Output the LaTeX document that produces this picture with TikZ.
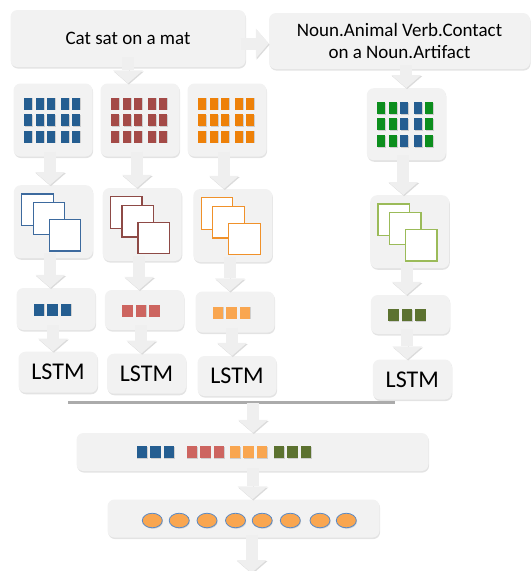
\documentclass[tikz,border=0pt]{standalone}
\usepackage{fontspec}
\setmainfont{Carlito}
\usetikzlibrary{arrows.meta,shapes.geometric,shadows,positioning,calc}
\definecolor{boxgray}{HTML}{F2F2F2}
\definecolor{arrowgray}{HTML}{EFEFEF}
\definecolor{cblue}{HTML}{255E91}
\definecolor{cred}{HTML}{A44A47}
\definecolor{corange}{HTML}{EE8109}
\definecolor{cgreen}{HTML}{0C8E1D}
\definecolor{fblue}{HTML}{3D6A9E}
\definecolor{fred}{HTML}{8E4A46}
\definecolor{forange}{HTML}{F0912A}
\definecolor{fgreen}{HTML}{9BBB59}
\definecolor{vblue}{HTML}{255E91}
\definecolor{vred}{HTML}{CD6560}
\definecolor{vorange}{HTML}{F9A650}
\definecolor{vgreen}{HTML}{5C7230}
\definecolor{ublue}{HTML}{5A8AC6}
\tikzset{
block/.style    = {fill=boxgray, rounded corners=7pt, inner sep=0pt, drop shadow={shadow xshift=0.6pt, shadow yshift=-1.6pt, opacity=0.22}},
colbox/.style   = {block, minimum width=79pt, minimum height=73pt},
rowbox/.style   = {block, minimum width=79pt, minimum height=40pt},
cell/.style     = {rectangle, inner sep=0pt, minimum width=8pt, minimum height=12pt, drop shadow={shadow xshift=0.7pt, shadow yshift=-0.9pt, opacity=0.3}},
chip/.style     = {cell, minimum width=10.5pt},
sheet/.style    = {rectangle, fill=white, line width=1.1pt, inner sep=0pt, minimum size=31.5pt},
unit/.style     = {ellipse, draw=ublue, fill=vorange, line width=0.8pt, inner sep=0pt, minimum width=20pt, minimum height=14.5pt, drop shadow={shadow xshift=0.7pt, shadow yshift=-1pt, opacity=0.3}},
flow/.style     = {draw=arrowgray, line width=12pt, -{Triangle[width=30pt,length=13pt,line width=0pt]}, preaction={draw=black!14, transform canvas={shift={(0.8pt,-1.2pt)}}}},
rule/.style     = {draw=black!33, line width=3pt},
sentfont/.style = {font=\fontsize{19}{22}\selectfont},
lstmfont/.style = {font=\fontsize{24}{26}\selectfont}
}
\begin{document}
\begin{tikzpicture}[x=1pt, y=-1pt]
  \useasboundingbox (0,0) rectangle (531,571);

  \node [block, sentfont, minimum width=235pt, minimum height=57pt]               (sent)    at (128,38.5)    {Cat sat on a mat};
  \node [block, sentfont, minimum width=261pt, minimum height=56pt, align=center] (tags)    at (399.5,41)    {Noun.Animal Verb.Contact\\on a Noun.Artifact};

  \node [colbox]                                                                  (grida)   at (53,120)      {};
  \node [colbox]                                                                  (gridb)   at (140,120)     {};
  \node [colbox]                                                                  (gridc)   at (227,120)     {};
  \node [colbox, minimum height=72pt]                                             (gridd)   at (406.3,124.2) {};

  \node [colbox]                                                                  (convola) at (53.3,221.7)  {};
  \node [colbox]                                                                  (convolb) at (142.2,224.5) {};
  \node [colbox]                                                                  (convolc) at (232.8,225.5) {};
  \node [colbox]                                                                  (convold) at (409.7,231.7) {};

  \node [rowbox, minimum height=42pt]                                             (vecta)   at (56,309)      {};
  \node [rowbox]                                                                  (vectb)   at (144.4,310)   {};
  \node [rowbox, minimum height=41pt]                                             (vectc)   at (235,312)     {};
  \node [rowbox, minimum height=39pt]                                             (vectd)   at (410.3,314.5) {};

  \node [rowbox, lstmfont, minimum height=41pt]                                   (lstma)   at (58,372.2)    {LSTM};
  \node [rowbox, lstmfont]                                                        (lstmb)   at (146.5,373.7) {LSTM};
  \node [rowbox, lstmfont]                                                        (lstmc)   at (237,376)     {LSTM};
  \node [rowbox, lstmfont]                                                        (lstmd)   at (412.3,379.5) {LSTM};

  \node [block, minimum width=352pt, minimum height=38pt]                         (concat)  at (252.5,452)   {};
  \node [block, minimum width=272pt, minimum height=38pt]                         (hidden)  at (243.5,518.5) {};

  \foreach \g/\c in {grida/cblue, gridb/cred, gridc/corange}
    \foreach \x [count=\i] in {-25,-13,-2,12,23}
      \foreach \y [count=\j] in {-16.5,0,16.5}
        \node [cell, fill=\c] (\g-\i-\j) at ([shift={(\x,\y)}]\g) {};
  \foreach \x/\c [count=\i] in {-25/cgreen,-13/cgreen,-2/cblue,12/cblue,23/cgreen}
    \foreach \y [count=\j] in {-16.5,0,16.5}
      \node [cell, fill=\c] (gridd-\i-\j) at ([shift={(\x,\y)}]gridd) {};

  \foreach \g/\c in {convola/fblue, convolb/fred, convolc/forange, convold/fgreen}
    \foreach \x/\y [count=\i] in {-16/-12,-4.5/-3.3,11.5/13.5}
      \node [sheet, draw=\c] (\g-\i) at ([shift={(\x,\y)}]\g) {};

  \foreach \g/\c in {vecta/vblue, vectb/vred, vectc/vorange, vectd/vgreen}
    \foreach \x [count=\i] in {-17,-3.5,10}
      \node [chip, fill=\c] (\g-\i) at ([shift={(\x,0.5)}]\g) {};

  \foreach \x/\c [count=\i] in {-110.5/vblue,-97/vblue,-83.5/vblue,-60.5/vred,-47/vred,-33.5/vred,-17.5/vorange,-4/vorange,9.5/vorange,26.5/vgreen,40/vgreen,53.5/vgreen}
    \node [chip, fill=\c] (concat-\i) at ([shift={(\x,0)}]concat) {};

  \foreach \x [count=\i] in {-91.2,-64.3,-36.5,-8,18.7,46.8,76.5,102.8}
    \node [unit] (hidden-\i) at ([shift={(\x,2)}]hidden) {};

  \coordinate (linea) at (68,402.5);
  \coordinate (lineb) at (395,402.5);
  \coordinate (join)  at (253,403);
  \coordinate (out)   at (251.5,573);

  \draw [rule] (linea) -- (lineb);

  \draw [flow] ([shift={(-5pt,-5pt)}]sent.east) -- ([yshift=-5pt]sent.east -| tags.west);
  \draw [flow] ([yshift=10pt]sent.south) -- (sent.south |- gridb.north);
  \draw [flow] ([yshift=4pt]tags.south -| gridd) -- (gridd.north);
  \foreach \a/\b in {grida/convola, gridb/convolb, gridc/convolc, gridd/convold,
                     convola/vecta, convolb/vectb, convolc/vectc, convold/vectd,
                     vecta/lstma, vectb/lstmb, vectc/lstmc, vectd/lstmd}
    \draw [flow] ([shift={(-3pt,5pt)}]\a.south) -- ([xshift=-3pt]\a.south |- \b.north);
  \draw [flow] (join) -- (join |- concat.north);
  \draw [flow] ([yshift=3pt]concat.south) -- (concat.south |- hidden.north);
  \draw [flow] ([yshift=3pt]hidden.south -| out) -- (out);
\end{tikzpicture}
\end{document}
